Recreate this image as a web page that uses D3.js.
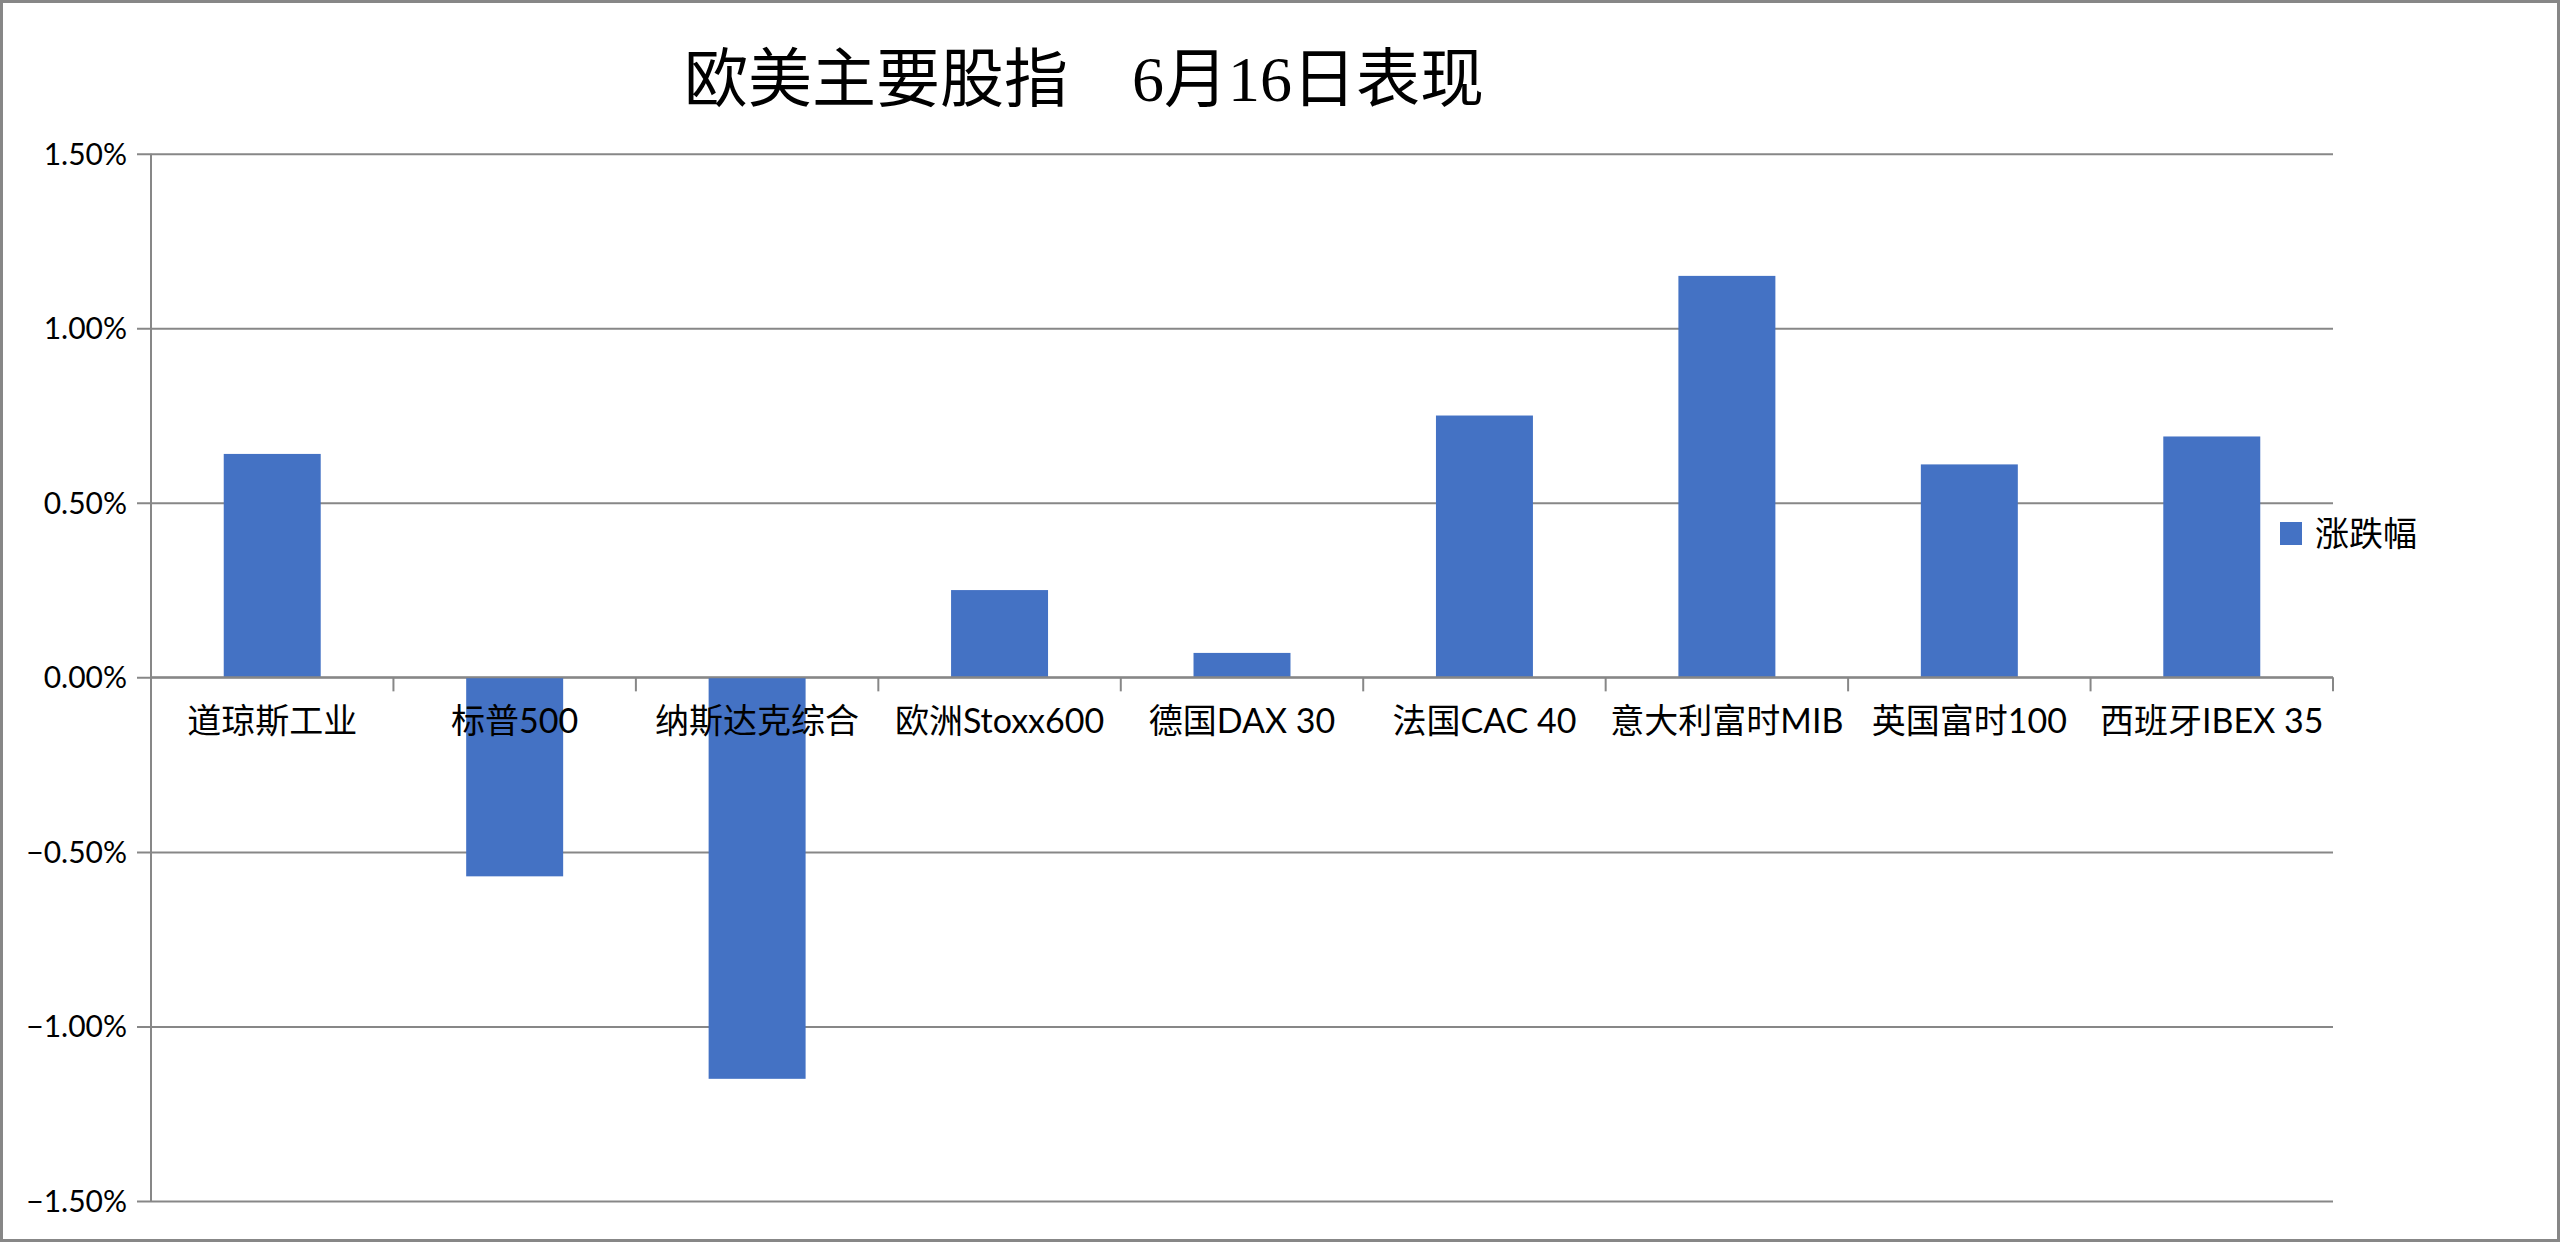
<!DOCTYPE html>
<html>
<head>
<meta charset="utf-8">
<script src="https://d3js.org/d3.v7.min.js"></script>
<style>
    body { margin: 0; background: #fff; }
    svg { display: block; }
    .title { font-family: "Liberation Serif", "DejaVu Serif", "Noto Sans CJK SC", serif; font-size: 64px; fill: #000; white-space: pre; }
    .ytick { font-family: Lato, "Noto Sans CJK SC", sans-serif; font-size: 30px; fill: #000; }
    .xlabel { font-family: Lato, "Noto Sans CJK SC", sans-serif; font-size: 34px; fill: #000; }
    .legendtext { font-family: "Noto Sans CJK SC", sans-serif; font-size: 34px; fill: #000; }
</style>
</head>
<body>
<div id="chart"></div>
<script>

// chart values
var categories = ["道琼斯工业", "标普500", "纳斯达克综合", "欧洲Stoxx600", "德国DAX 30",
                  "法国CAC 40", "意大利富时MIB", "英国富时100", "西班牙IBEX 35"];
var changes = [0.0064, -0.0057, -0.0115, 0.0025, 0.0007, 0.0075, 0.0115, 0.0061, 0.0069];
var yTicks = [-0.015, -0.01, -0.005, 0, 0.005, 0.01, 0.015];
var seriesName = "涨跌幅";
var titleText = "欧美主要股指    6月16日表现";

/**
 * Constructor for the BarChart
 */
function BarChart(){
    var self = this;
    self.init();
};

/**
 * Sets up the svg and the scales
 */
BarChart.prototype.init = function(){
    var self = this;

    self.width = 2560;
    self.height = 1242;
    self.margin = {top: 153.7, right: 227, bottom: 41, left: 151};
    self.plotWidth = self.width - self.margin.left - self.margin.right;
    self.plotHeight = self.height - self.margin.top - self.margin.bottom;

    self.svg = d3.select("#chart").append("svg")
        .attr("width", self.width)
        .attr("height", self.height);

    self.x = d3.scaleBand()
        .domain(categories)
        .range([self.margin.left, self.margin.left + self.plotWidth])
        .paddingInner(0.6)
        .paddingOuter(0.3);

    self.y = d3.scaleLinear()
        .domain([-0.015, 0.015])
        .range([self.margin.top + self.plotHeight, self.margin.top]);
};

/**
 * Draws grid, bars, axes, labels and legend
 */
BarChart.prototype.update = function(){
    var self = this;
    var svg = self.svg;
    var gridColor = "#878787";
    var barColor = "#4472C4";
    var left = self.margin.left;
    var right = self.margin.left + self.plotWidth;

    //outer chart border
    svg.append("rect")
        .attr("x", 1.5).attr("y", 1.5)
        .attr("width", self.width - 3).attr("height", self.height - 3)
        .attr("fill", "none")
        .attr("stroke", gridColor)
        .attr("stroke-width", 3);

    //title
    svg.append("text")
        .attr("class", "title")
        .attr("x", 1084)
        .attr("y", 101)
        .attr("text-anchor", "middle")
        .text(titleText);

    //horizontal gridlines with ticks on the left
    var yAxis = d3.axisLeft(self.y)
        .tickValues(yTicks)
        .tickSize(self.plotWidth + 14)
        .tickFormat(d3.format(".2%"));

    var gy = svg.append("g")
        .attr("transform", "translate(" + right + ",0)")
        .call(yAxis);
    gy.select(".domain").remove();
    gy.selectAll(".tick line")
        .attr("stroke", gridColor)
        .attr("stroke-width", 2);
    gy.selectAll(".tick text")
        .attr("class", "ytick")
        .attr("x", -(self.plotWidth + 24))
        .attr("dy", "0.35em");
    gy.attr("font-family", null).attr("font-size", null);

    //bars
    svg.append("g").selectAll("rect")
        .data(categories)
        .enter()
        .append("rect")
        .attr("x", function(d){ return self.x(d); })
        .attr("width", self.x.bandwidth())
        .attr("y", function(d, i){ return self.y(Math.max(0, changes[i])); })
        .attr("height", function(d, i){ return Math.abs(self.y(changes[i]) - self.y(0)); })
        .attr("fill", barColor);

    //left axis line
    svg.append("line")
        .attr("x1", left).attr("x2", left)
        .attr("y1", self.y(0.015)).attr("y2", self.y(-0.015))
        .attr("stroke", gridColor)
        .attr("stroke-width", 2);

    //category axis at zero, ticks between categories
    var zeroY = self.y(0);
    svg.append("line")
        .attr("x1", left).attr("x2", right)
        .attr("y1", zeroY).attr("y2", zeroY)
        .attr("stroke", gridColor)
        .attr("stroke-width", 2);

    var step = self.x.step();
    svg.append("g").selectAll("line")
        .data(d3.range(categories.length + 1))
        .enter()
        .append("line")
        .attr("x1", function(i){ return left + i * step; })
        .attr("x2", function(i){ return left + i * step; })
        .attr("y1", zeroY)
        .attr("y2", zeroY + 14)
        .attr("stroke", gridColor)
        .attr("stroke-width", 2);

    //category labels drawn on top of the bars
    svg.append("g").selectAll("text")
        .data(categories)
        .enter()
        .append("text")
        .attr("class", "xlabel")
        .attr("x", function(d){ return self.x(d) + self.x.bandwidth() / 2; })
        .attr("y", zeroY + 44)
        .attr("dy", "0.35em")
        .attr("text-anchor", "middle")
        .text(function(d){ return d; });

    //legend
    var legend = svg.append("g").attr("transform", "translate(2280,522)");
    legend.append("rect")
        .attr("width", 22).attr("height", 23)
        .attr("fill", barColor);
    legend.append("text")
        .attr("class", "legendtext")
        .attr("x", 35)
        .attr("y", 12)
        .attr("dy", "0.35em")
        .text(seriesName);
};

var chart = new BarChart();
chart.update();

</script>
</body>
</html>
